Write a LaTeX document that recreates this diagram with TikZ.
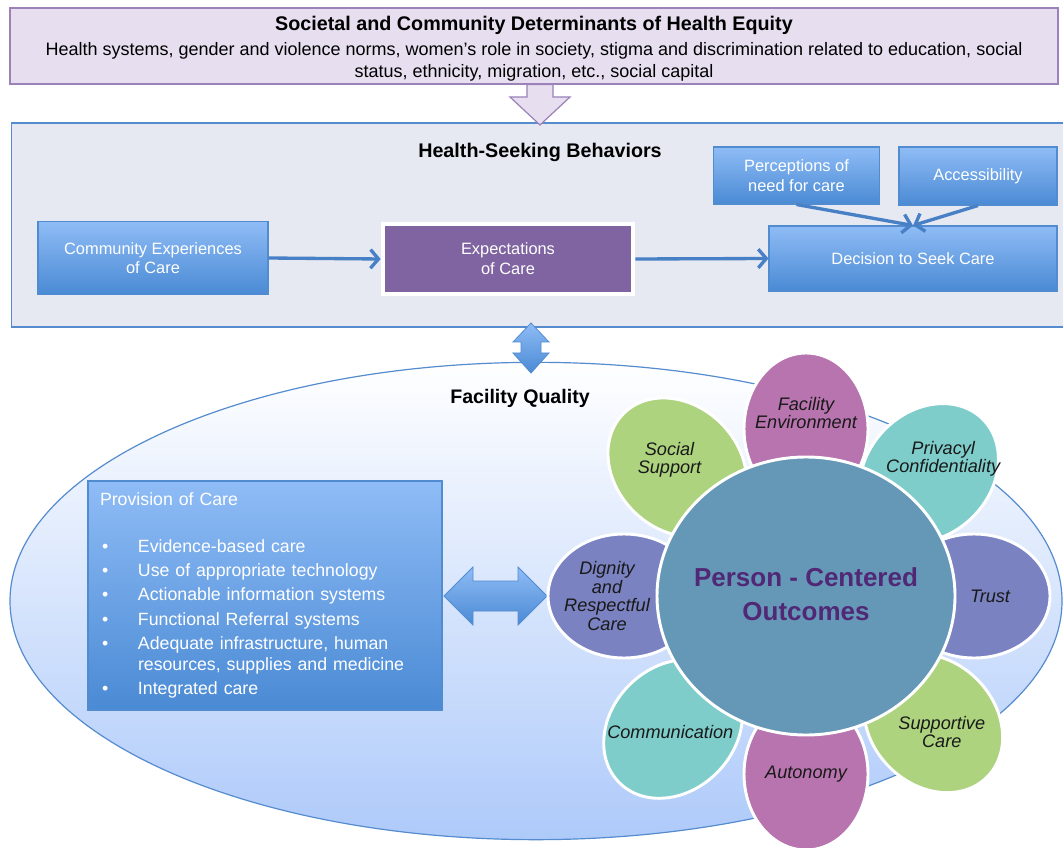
\documentclass[tikz,border=0pt]{standalone}
\usepackage{fontspec}
\setmainfont{Liberation Sans}
\usetikzlibrary{shapes.geometric, arrows.meta, calc}

\definecolor{socfill}{RGB}{231,222,240}
\definecolor{socdraw}{RGB}{155,130,185}
\definecolor{hsbfill}{RGB}{230,233,242}
\definecolor{hsbdraw}{RGB}{85,140,205}
\definecolor{boxtop}{RGB}{143,188,246}
\definecolor{boxbot}{RGB}{74,138,212}
\definecolor{boxdraw}{RGB}{82,140,208}
\definecolor{expfill}{RGB}{128,100,162}
\definecolor{flowcol}{RGB}{72,128,198}
\definecolor{fqbot}{RGB}{174,202,250}
\definecolor{magP}{RGB}{183,116,174}
\definecolor{tealP}{RGB}{126,205,203}
\definecolor{violetP}{RGB}{122,130,193}
\definecolor{greenP}{RGB}{173,211,127}
\definecolor{corefill}{RGB}{101,152,183}
\definecolor{pctext}{RGB}{80,40,118}
\definecolor{petaltxt}{RGB}{25,25,25}

\begin{document}
\begin{tikzpicture}[x=0.75pt, y=-0.75pt,
    bluebox/.style={draw=boxdraw, line width=0.8pt, top color=boxtop, bottom color=boxbot, text=white, align=center, font=\fontsize{12.3}{14.5}\selectfont},
    flow/.style={draw=flowcol, line width=2.5pt, -{Straight Barb[length=6pt, width=14pt]}},
    blockarrow/.style={draw=boxdraw, line width=0.6pt, top color=boxtop, bottom color=boxbot},
    petal/.style={draw=white, line width=2.2pt},
    petaltext/.style={font=\fontsize{13.6}{13.8}\selectfont\itshape, text=petaltxt, align=center}]
\clip (0,0) rectangle (1063,848);
\fill[white] (0,0) rectangle (1063,848);

% health-seeking behaviours
\node (hsb) at (540.5,225) [draw=hsbdraw, fill=hsbfill, line width=0.9pt, minimum width=794pt, minimum height=153pt] {};
\node (hsbtitle) at (540,152) [font=\fontsize{14.8}{16}\selectfont\bfseries] {Health-Seeking Behaviors};

\node (com) at (153,258) [bluebox, minimum width=172.5pt, minimum height=54.75pt] {Community Experiences\\of Care};
\node (exp) at (508,259) [draw=white, line width=3pt, fill=expfill, text=white, align=center, font=\fontsize{12.3}{15}\selectfont, minimum width=188pt, minimum height=52.5pt] {Expectations\\of Care};
\node (dec) at (913,258.5) [bluebox, minimum width=216pt, minimum height=48.75pt] {Decision to Seek Care};
\node (perc) at (796.5,175.5) [bluebox, minimum width=125pt, minimum height=42.75pt] {Perceptions of\\need for care};
\node (acc) at (978,176) [bluebox, minimum width=118.5pt, minimum height=43.5pt] {Accessibility};

\draw[flow] (com.east) -- (exp.west);
\draw[flow] (exp.east) -- (dec.west);
\draw[flow] (perc.south) -- (dec.north);
\draw[flow] (acc.south) -- (dec.north);

% societal determinants
\node (soc) at (534,46) [draw=socdraw, fill=socfill, line width=0.9pt, minimum width=786pt, minimum height=57pt] {};
\node (soctext) at (534,49) [align=center, font=\fontsize{13.5}{16.5}\selectfont] {{\fontsize{14.8}{15}\selectfont\bfseries Societal and Community Determinants of Health Equity}\\[2pt]
    Health systems, gender and violence norms, women's role in society, stigma and discrimination related to education, social\\
    status, ethnicity, migration, etc., social capital};
\draw[draw=socdraw, fill=socfill, line width=0.9pt] (527,84.5) -- (553,84.5) -- (553,97) -- (570,97) -- (540,125) -- (510,97) -- (527,97) -- cycle;

% facility quality
\node (fq) at (536,601) [ellipse, draw=hsbdraw, line width=0.9pt, top color=white, bottom color=fqbot, minimum width=789pt, minimum height=358pt] {};
\node (fqtitle) at (520,398) [font=\fontsize{14.7}{16}\selectfont\bfseries] {Facility Quality};
\draw[blockarrow] (531,323) -- (549,342) -- (541,342) -- (541,353) -- (549,353) -- (531,373) -- (513,353) -- (521,353) -- (521,342) -- (513,342) -- cycle;

\node (prov) at (265,595.5) [bluebox, align=left, text width=247.5pt, inner xsep=9pt, minimum height=171.75pt, font=\fontsize{13.3}{18.2}\selectfont] {Provision of Care\\[17pt]
    \hspace*{1.5pt}\makebox[27pt][l]{\textbullet}Evidence-based care\\
    \hspace*{1.5pt}\makebox[27pt][l]{\textbullet}Use of appropriate technology\\
    \hspace*{1.5pt}\makebox[27pt][l]{\textbullet}Actionable information systems\\
    \hspace*{1.5pt}\makebox[27pt][l]{\textbullet}Functional Referral systems\\
    \hspace*{1.5pt}\makebox[27pt][l]{\textbullet}Adequate infrastructure, human\\[-2.4pt]
    \hspace*{28.5pt}resources, supplies and medicine\\
    \hspace*{1.5pt}\makebox[27pt][l]{\textbullet}Integrated care};
\draw[blockarrow] (444,596) -- (473,567) -- (473,581) -- (518,581) -- (518,567) -- (547,596) -- (518,625) -- (518,611) -- (473,611) -- (473,625) -- cycle;

% person-centered flower
\coordinate (core) at (806,596);
\foreach \a/\d/\col/\td/\txt in {0/168/violetP/184/Trust, 45/174/tealP/194/{Privacyl\\Confidentiality}, 90/167/magP/183/{Facility\\Environment}, 135/182/greenP/193/{Social\\Support}, 180/182/violetP/199/{Dignity\\and\\Respectful\\Care}, 225/188/tealP/192/Communication, 270/178/magP/178/Autonomy, 315/180/greenP/192/{Supportive\\Care}} {
  \path (core) ++(-\a:\d) coordinate (p\a);
  \draw[petal, fill=\col, rotate around={\a:(p\a)}] (p\a) ellipse [x radius=76, y radius=62];
  \node (petal\a) at ($(core)+(-\a:\td)$) [petaltext] {\txt};
}
\node (pco) at (core) [ellipse, draw=white, line width=2.2pt, fill=corefill, inner sep=0pt, minimum width=223.5pt, minimum height=208.5pt] {};
\node (pcotext) at (806,594) [text=pctext, font=\fontsize{19.5}{25.5}\selectfont\bfseries, align=center] {Person - Centered\\Outcomes};
\end{tikzpicture}
\end{document}
